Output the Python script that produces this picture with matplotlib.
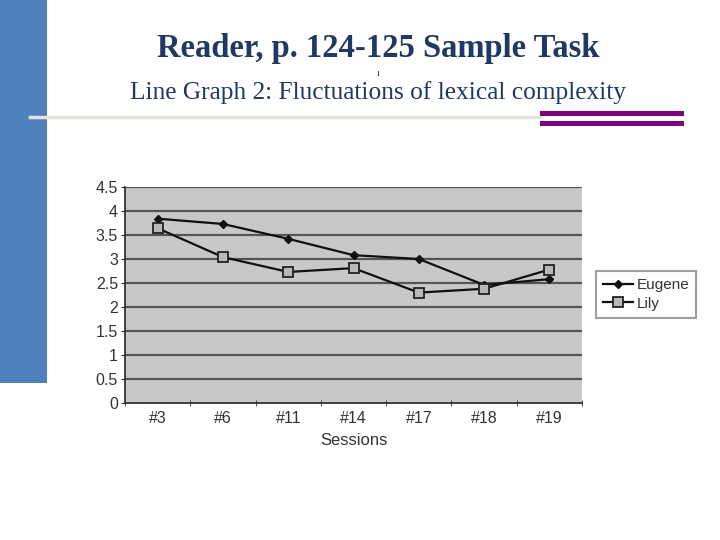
import matplotlib
matplotlib.use("Agg")
import matplotlib.pyplot as plt
from matplotlib.patches import Rectangle
from matplotlib.lines import Line2D
import numpy as np

sessions = ["#3", "#6", "#11", "#14", "#17", "#18", "#19"]
eugene = [3.84, 3.73, 3.42, 3.08, 3.00, 2.46, 2.58]
lily = [3.64, 3.04, 2.73, 2.81, 2.30, 2.38, 2.78]
yticks = [0, 0.5, 1, 1.5, 2, 2.5, 3, 3.5, 4, 4.5]

fig = plt.figure(figsize=(7.2, 5.4), dpi=100)
fig.patch.set_facecolor("white")

# slide decorations
fig.add_artist(Rectangle((0, 1 - 383/540), 47/720, 383/540, transform=fig.transFigure,
                         facecolor="#4f81bd", edgecolor="none", zorder=0))
fig.add_artist(Line2D([30/720, 540/720], [1 - 116.5/540]*2, transform=fig.transFigure,
                      color="#e4e4dc", lw=2.5, zorder=1))
fig.add_artist(Rectangle((540/720, 1 - 116/540), 144/720, 5/540, transform=fig.transFigure,
                         facecolor="#800080", edgecolor="none", zorder=1))
fig.add_artist(Rectangle((540/720, 1 - 126/540), 144/720, 5/540, transform=fig.transFigure,
                         facecolor="#800080", edgecolor="none", zorder=1))

fig.text(378/720, 1 - 48/540, "Reader, p. 124-125 Sample Task", ha="center", va="center",
         family="Liberation Serif", fontweight="bold", fontsize=23.5, color="#1f3864")
fig.text(378/720, 1 - 73/540, "ı", ha="center", va="center",
         family="Liberation Serif", fontsize=7, color="#1f3864")
fig.text(378/720, 1 - 93/540, "Line Graph 2: Fluctuations of lexical complexity", ha="center",
         va="center", family="Liberation Serif", fontsize=18.3, color="#1f3864")

ax = fig.add_axes([125/720, 1 - 403/540, 457/720, 216/540])
ax.set_facecolor("#c8c8c8")
x = np.arange(len(sessions))
ax.set_xlim(-0.5, len(sessions) - 0.5)
ax.set_ylim(0, 4.5)
for yv in yticks[1:]:
    ax.axhline(yv, color="#555555", lw=1.6, zorder=1)

l1, = ax.plot(x, eugene, color="#111111", lw=1.6, marker="D", markersize=4.5,
              markerfacecolor="#111111", markeredgecolor="#111111", zorder=3, label="Eugene")
l2, = ax.plot(x, lily, color="#111111", lw=1.6, marker="s", markersize=6.5,
              markerfacecolor="#b8b8b8", markeredgecolor="#222222", markeredgewidth=1.3,
              zorder=3, label="Lily")

ax.set_yticks(yticks)
ax.set_yticklabels([("%g" % v) for v in yticks])
ax.set_xticks(x)
ax.set_xticklabels(sessions)
ax.set_xticks(np.arange(-0.5, len(sessions)), minor=True)
ax.tick_params(axis="x", which="major", length=0, pad=6, labelsize=11.5, labelcolor="#333333")
ax.tick_params(axis="x", which="minor", length=4, direction="inout", color="#333333")
ax.tick_params(axis="y", length=3, direction="out", color="#333333", labelsize=11.5,
               labelcolor="#333333", pad=2)
for lab in ax.get_xticklabels() + ax.get_yticklabels():
    lab.set_family("Liberation Sans")
for s in ["top", "right"]:
    ax.spines[s].set_visible(False)
ax.spines["left"].set_color("#333333")
ax.spines["bottom"].set_color("#333333")
ax.spines["left"].set_linewidth(1.3)
ax.spines["bottom"].set_linewidth(1.3)
ax.set_xlabel("Sessions", family="Liberation Sans", fontsize=12, color="#333333", labelpad=5)

leg = fig.legend(handles=[l1, l2], loc="center", bbox_to_anchor=(646/720, 1 - 294.5/540),
                 prop={"family": "Liberation Sans", "size": 11}, frameon=True,
                 fancybox=False, edgecolor="#888888", handlelength=2.0, handletextpad=0.2,
                 borderpad=0.45, labelspacing=0.3, borderaxespad=0)
leg.get_frame().set_linewidth(1.5)
for t in leg.get_texts():
    t.set_color("#333333")

fig.savefig("out.png", dpi=100)
